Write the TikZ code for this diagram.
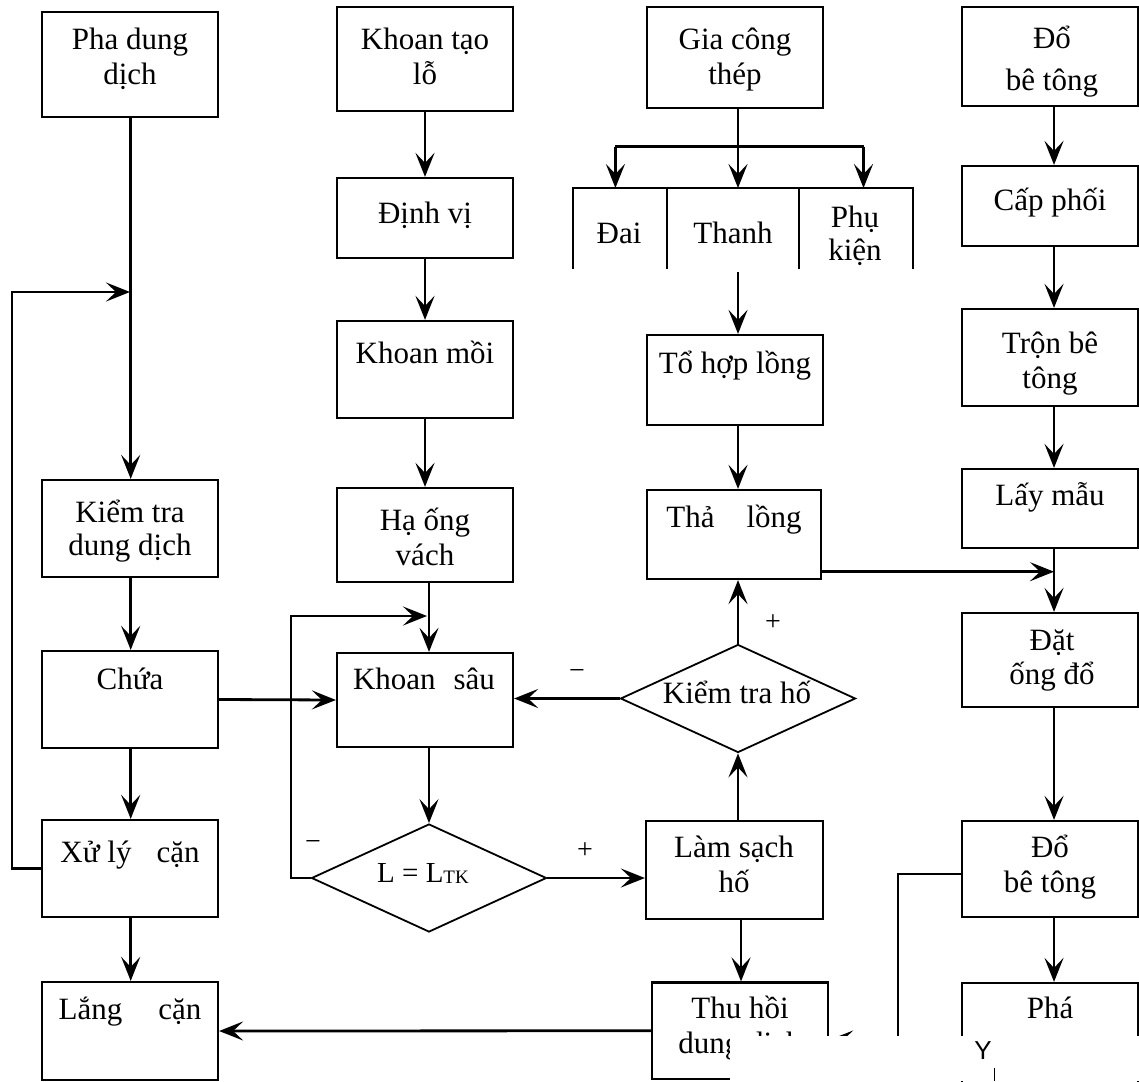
\documentclass[tikz,border=0pt]{standalone}
\usepackage{fontspec}
\setmainfont{Liberation Serif}
\newfontfamily\ysans{Liberation Sans}
\usetikzlibrary{arrows.meta,shapes.geometric}
\newcommand\tfnt{\fontsize{31}{35}\selectfont\lineskiplimit=-100pt\lineskip=0pt}
\newcommand\st{\rule{0pt}{32pt}}
\begin{document}
\begin{tikzpicture}[x=1pt,y=-1pt,
  box/.style={draw, line width=2.2pt, inner sep=0pt, minimum width=176pt},
  dia/.style={draw, diamond, line width=1.8pt, inner sep=0pt, minimum width=235pt, minimum height=108pt},
  ln/.style={line width=2.8pt},
  arr/.style={ln, -{Stealth[length=24pt,width=19pt,inset=10pt]}},
  txt/.style={inner sep=0pt, align=center, anchor=north, font=\tfnt},
  lbl/.style={inner sep=0pt, font=\fontsize{28}{28}\selectfont}]
\useasboundingbox (0,0) rectangle (1139,1081);
% column lines
\coordinate (c1) at (130.7,0);
\coordinate (c2) at (425,0);
\coordinate (c2b) at (429,0);
\coordinate (c3) at (738,0);
\coordinate (c3b) at (741,0);
\coordinate (c4) at (1054,0);
% ---- column 1
\node[box, minimum height=105pt] (pha) at (130,64.5) {};
\node[box, minimum height=97pt] (kt) at (130,528.5) {};
\node[box, minimum height=97pt] (chua) at (130,699.5) {};
\node[box, minimum height=97pt] (xuly) at (130,868.5) {};
\node[box, minimum height=98pt] (lang) at (130,1031) {};
\node[txt] (tpha) at (130,17) {\st Pha dung\\dịch};
\node[txt] (tkt) at (130,490) {\st Kiểm tra\\[-2pt]dung dịch};
\node[txt] (tchua) at (130,657) {\st Chứa};
\node[txt] (txuly) at (130,830) {\st Xử lý\hspace{25pt}cặn};
\node[txt] (tlang) at (130,987) {\st Lắng\hspace{36pt}cặn};
% ---- column 2
\node[box, minimum height=104pt] (khoan) at (425,59) {};
\node[box, minimum height=80pt] (dinhvi) at (425,218) {};
\node[box, minimum height=97pt] (moi) at (425,369.5) {};
\node[box, minimum height=94pt] (ha) at (425,535) {};
\node[box, minimum height=94pt] (sau) at (425,700) {};
\node[dia] (ltk) at (429,878) {};
\node[txt] (tkhoan) at (425,17) {\st Khoan tạo\\lỗ};
\node[txt] (tdinhvi) at (425,191) {\st Định vị};
\node[txt] (tmoi) at (425,331) {\st Khoan mồi};
\node[txt] (tha2) at (425,498) {\st Hạ ống\\vách};
\node[txt] (tsau) at (424,657) {\st Khoan\hspace{18pt}sâu};
\node[txt, font=\fontsize{29}{30}\selectfont] (tltk) at (423,850) {\st L = L\raisebox{-1pt}{\fontsize{19}{19}\selectfont TK}};
% ---- column 3
\node[box, minimum height=101pt] (gia) at (735,57.5) {};
\node[box, minimum height=90pt] (tohop) at (735,380) {};
\node[box, minimum width=174pt, minimum height=89pt] (tha) at (734,534.5) {};
\node[dia] (kth) at (738,698.5) {};
\node[box, minimum width=177pt, minimum height=98pt] (lamsach) at (734.5,870) {};
\node[box, minimum height=96.5pt] (thuhoi) at (740,1030.75) {};
\node[txt] (tgia) at (735,17) {\st Gia công\\thép};
\node[txt] (ttohop) at (735,341) {\st Tổ hợp lồng};
\node[txt] (ttha) at (734,495) {\st Thả\hspace{32pt}lồng};
\node[txt] (tkth) at (737,671) {\st Kiểm tra hố};
\node[txt] (tlamsach) at (734,825) {\st Làm sạch\\hố};
\node[txt] (tthuhoi) at (740,986) {\st Thu hồi\\dung dịch};
% steel table (open at the bottom)
\draw[line width=2.2pt] (573,269) -- (573,188) -- (913,188) -- (913,269);
\draw[line width=2.2pt] (667,188) -- (667,269);
\draw[line width=2.2pt] (799,188) -- (799,269);
\coordinate (tDai) at (615.4,188);
\coordinate (tThanh) at (738,188);
\coordinate (tPhu) at (863.5,188);
\coordinate (tThanhB) at (738,272);
\node[txt] (tdai) at (619,211) {\st Đai};
\node[txt] (tthanh) at (733,211) {\st Thanh};
\node[txt] (tphu) at (855,195) {\st Phụ\\[-2pt]kiện};
% ---- column 4
\node[box, minimum height=99pt] (do1) at (1050,56.5) {};
\node[box, minimum height=80pt] (capphoi) at (1050,206) {};
\node[box, minimum height=97pt] (tron) at (1050,357.5) {};
\node[box, minimum height=79pt] (laymau) at (1050,508.5) {};
\node[box, minimum height=94pt] (dat) at (1050,660) {};
\node[box, minimum height=96pt] (do2) at (1050,869) {};
\node[box, minimum height=117pt] (phanode) at (1050,1041.5) {};
\node[txt] (tdo1) at (1052,16) {\st Đổ\\[7pt]bê tông};
\node[txt] (tcap) at (1050,178) {\st Cấp phối};
\node[txt] (ttron) at (1050,321) {\st Trộn bê\\tông};
\node[txt] (tlay) at (1050,473) {\st Lấy mẫu};
\node[txt] (tdat) at (1052,618) {\st Đặt\\[-1pt]ống đổ};
\node[txt] (tdo2) at (1050,825) {\st Đổ\\bê tông};
\node[txt] (tpha2) at (1050,986) {\st Phá};
% ---- connectors column 1
\draw[arr] (pha.south -| c1) -- (kt.north -| c1);
\draw[arr] (kt.south -| c1) -- (chua.north -| c1);
\draw[arr] (chua.south -| c1) -- (xuly.north -| c1);
\draw[arr] (xuly.south -| c1) -- (lang.north -| c1);
\coordinate (fb1) at (12,868.5);
\coordinate (fb2) at (12,292);
\coordinate (fb3) at (130,292);
\draw[arr] (xuly.west) -- (fb1) -- (fb2) -- (fb3);
\draw[arr] (chua.east) -- (sau.west);
% ---- connectors column 2
\draw[arr] (khoan.south -| c2) -- (dinhvi.north -| c2);
\draw[arr] (dinhvi.south -| c2) -- (moi.north -| c2);
\draw[arr] (moi.south -| c2) -- (ha.north -| c2);
\draw[arr] (ha.south -| c2b) -- (sau.north -| c2b);
\draw[arr] (sau.south -| c2b) -- (ltk.north);
\coordinate (lb1) at (291,878);
\coordinate (lb2) at (291,616);
\coordinate (lb3) at (427,616);
\draw[arr] (ltk.west) -- (lb1) -- (lb2) -- (lb3);
\draw[arr] (ltk.east) -- (ltk.east -| lamsach.west);
\node[lbl] (m1) at (313,845) {−};
\node[lbl] (p1) at (585,851) {+};
% ---- connectors column 3
\coordinate (br) at (738,146.7);
\coordinate (brL) at (615.4,146.7);
\coordinate (brR) at (863.5,146.7);
\draw[ln] (gia.south -| br) -- (br);
\draw[ln] (brL) -- (brR);
\draw[arr] (br) -- (tThanh);
\draw[arr] (brL) -- (tDai);
\draw[arr] (brR) -- (tPhu);
\draw[arr] (tThanhB) -- (tohop.north -| c3);
\draw[arr] (tohop.south -| c3) -- (tha.north -| c3);
\draw[arr] (kth.north) -- (tha.south -| c3);
\draw[arr] (kth.west) -- (kth.west -| sau.east);
\draw[arr] (lamsach.north -| c3) -- (kth.south);
\draw[arr] (lamsach.south -| c3b) -- (thuhoi.north -| c3b);
\draw[arr] (thuhoi.west) -- (lang.east);
\coordinate (j1) at (1054,571.7);
\draw[arr] (tha.east |- j1) -- (j1);
\node[lbl] (m2) at (577,674) {−};
\node[lbl] (p2) at (773,623) {+};
% ---- connectors column 4
\draw[arr] (do1.south -| c4) -- (capphoi.north -| c4);
\draw[arr] (capphoi.south -| c4) -- (tron.north -| c4);
\draw[arr] (tron.south -| c4) -- (laymau.north -| c4);
\draw[arr] (laymau.south -| c4) -- (dat.north -| c4);
\draw[arr] (dat.south -| c4) -- (do2.north -| c4);
\draw[arr] (do2.south -| c4) -- (phanode.north -| c4);
\coordinate (k1) at (898,874);
\coordinate (k2) at (898,1040);
\draw[arr] (do2.west |- k1) -- (k1) -- (k2) -- (thuhoi.east |- k2);
% ---- white patch over the lower right corner
\fill[white] (730,1035.5) rectangle (1139,1081);
\node[inner sep=0pt, anchor=base, font=\ysans\fontsize{26}{26}\selectfont] (yy) at (983,1059) {Y};
\draw[line width=1pt] (994,1068) -- (994,1081);
\end{tikzpicture}
\end{document}
